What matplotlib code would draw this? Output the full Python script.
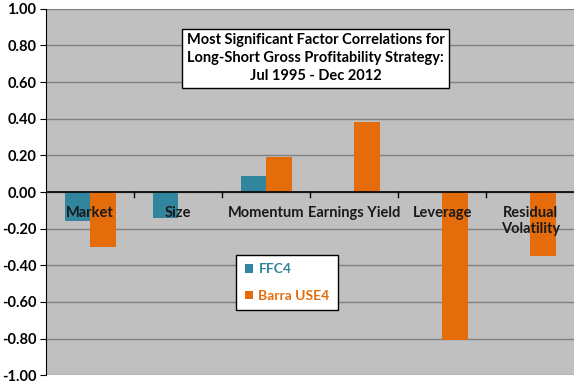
import matplotlib
matplotlib.use("Agg")
import matplotlib.pyplot as plt
import numpy as np

categories = ["Market", "Size", "Momentum", "Earnings Yield", "Leverage", "Residual\nVolatility"]
ffc4 = [-0.16, -0.14, 0.09, np.nan, np.nan, np.nan]
barra = [-0.30, np.nan, 0.19, 0.38, -0.81, -0.35]
series_names = ["FFC4", "Barra USE4"]
title = "Most Significant Factor Correlations for\nLong-Short Gross Profitability Strategy:\nJul 1995 - Dec 2012"
yticks = np.round(np.arange(-1.0, 1.01, 0.2), 2)

c_ffc = "#31859C"
c_barra = "#E46C0A"
font = ["Lato", "DejaVu Sans"]
plt.rcParams["font.family"] = font

fig = plt.figure(figsize=(5.76, 3.84), dpi=100)
ax = fig.add_axes([0.08, 0.023, 0.917, 0.954])
ax.set_facecolor("#C0C0C0")

x = np.arange(len(categories))
w = 0.29
ax.bar(x - w / 2, ffc4, w, color=c_ffc, label=series_names[0], zorder=3)
ax.bar(x + w / 2, barra, w, color=c_barra, label=series_names[1], zorder=3)

ax.set_xlim(-0.5, len(categories) - 0.5)
ax.set_ylim(-1.0, 1.0)
ax.set_yticks(yticks)
ax.set_yticklabels([f"{(v if abs(v) > 1e-9 else 0.0):.2f}" for v in yticks], fontsize=10.5, fontweight="bold")
for v in yticks:
    ax.axhline(v, color="#808080", lw=1, zorder=1)
ax.axhline(0, color="black", lw=1.2, zorder=4)

# category ticks on zero line
for b in np.arange(0.5, len(categories) - 0.5, 1):
    ax.plot([b, b], [0, -0.025], color="black", lw=1, zorder=4)

ax.set_xticks([])
for sp in ["top", "right", "bottom"]:
    ax.spines[sp].set_visible(False)
ax.spines["left"].set_color("black")
ax.tick_params(axis="y", direction="out", length=4, color="black", pad=3)

for xi, lab in zip(x, categories):
    ax.text(xi, -0.075, lab, ha="center", va="top", fontsize=10.5, fontweight="bold",
            color="#1a1a1a", zorder=5, linespacing=1.2)

ax.text(0.51, 0.865, title, transform=ax.transAxes, ha="center", va="center",
        fontsize=10.5, fontweight="bold", linespacing=1.35, zorder=6,
        bbox=dict(boxstyle="square,pad=0.3", fc="white", ec="black", lw=1))

leg = ax.legend(loc="upper left", bbox_to_anchor=(0.36, 0.328), borderaxespad=0, frameon=True,
                fancybox=False, edgecolor="black", framealpha=1, handlelength=0.6, handleheight=0.6,
                labelspacing=1.05, borderpad=0.6, handletextpad=0.4,
                prop={"weight": "bold", "size": 10})
leg.get_frame().set_linewidth(1)
for t, c in zip(leg.get_texts(), [c_ffc, c_barra]):
    t.set_color(c)
leg.set_zorder(6)

fig.savefig("out.png", dpi=100)
